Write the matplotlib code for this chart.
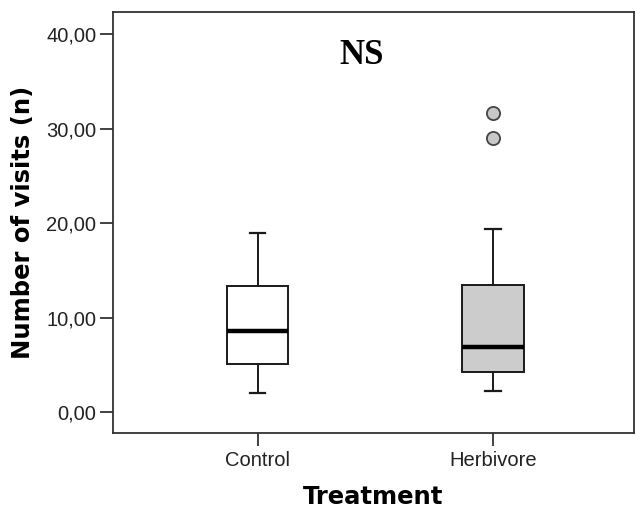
import matplotlib
matplotlib.use("Agg")
import matplotlib.pyplot as plt

categories = ["Control", "Herbivore"]
whislo = [2.0, 2.2]
q1 = [5.1, 4.2]
med = [8.6, 6.9]
q3 = [13.3, 13.5]
whishi = [19.0, 19.4]
fliers = [[], [29.0, 31.6]]
box_colors = ["#ffffff", "#cccccc"]
ytick_vals = [0, 10, 20, 30, 40]
ytick_labels = ["0,00", "10,00", "20,00", "30,00", "40,00"]

fig = plt.figure(figsize=(6.36, 5.14), dpi=100)
ax = fig.add_axes([113/636, 1-432.5/514, (634-113)/636, (432.5-12.3)/514])

stats = []
for i, c in enumerate(categories):
    stats.append(dict(label=c, whislo=whislo[i], q1=q1[i], med=med[i],
                      q3=q3[i], whishi=whishi[i], fliers=fliers[i]))

lc = "#1a1a1a"
bp = ax.bxp(stats, positions=[1, 2], widths=0.26, capwidths=0.066,
            patch_artist=True, showfliers=True,
            boxprops=dict(edgecolor=lc, linewidth=1.4),
            whiskerprops=dict(color=lc, linewidth=1.4),
            capprops=dict(color=lc, linewidth=1.6),
            medianprops=dict(color="black", linewidth=3.2, solid_capstyle="butt"),
            flierprops=dict(marker="o", markersize=9.5, markerfacecolor="#c8c8c8",
                            markeredgecolor="#444444", markeredgewidth=1.3))
for patch, col in zip(bp["boxes"], box_colors):
    patch.set_facecolor(col)

ax.set_xlim(0.386, 2.599)
ax.set_ylim(-2.15, 42.3)
ax.set_yticks(ytick_vals)
ax.set_yticklabels(ytick_labels, family="Liberation Sans", fontsize=14.5, color="#222222")
ax.set_xticks([1, 2])
ax.set_xticklabels(categories, family="Liberation Sans", fontsize=14.5, color="#222222")
ax.tick_params(axis="both", length=9.4, width=1.3, color="#333333", pad=2.5)
ax.tick_params(axis="x", pad=4)
for s in ax.spines.values():
    s.set_linewidth(1.3)
    s.set_color("#333333")

ax.set_xlabel("Treatment", family="DejaVu Sans", fontweight="bold", fontsize=17.5, labelpad=11)
ax.set_ylabel("Number of visits (n)", family="DejaVu Sans", fontweight="bold", fontsize=17.5, labelpad=8)

ax.text(1.44, 37.7, "NS", family="Liberation Serif", fontweight="bold", fontsize=25,
        ha="center", va="center")

fig.savefig("out.png", dpi=100)
